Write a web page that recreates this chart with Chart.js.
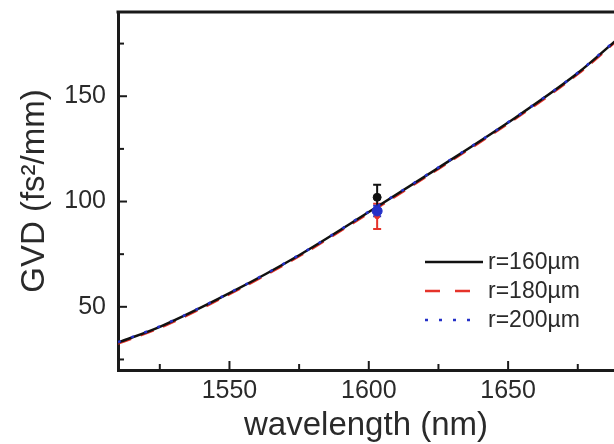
<!DOCTYPE html>
<html>
<head>
<meta charset="utf-8">
<script src="https://cdn.jsdelivr.net/npm/chart.js@4/dist/chart.umd.min.js"></script>
<style>
  html, body { margin: 0; padding: 0; background: #fff; overflow: hidden; }
  #wrap { position: relative; width: 614px; height: 444px; }
</style>
</head>
<body>
<div id="wrap"><canvas id="c"></canvas></div>
<script>
// ---------- Data ----------
const wavelength = [1510, 1525, 1550, 1575, 1600, 1625, 1650, 1675, 1690];
const gvdR160 = [33.0, 40.5, 56.5, 74.5, 95.0, 116.0, 137.5, 161.0, 178.0];
const gvdR180 = [32.6, 40.0, 56.0, 74.0, 94.5, 115.5, 137.0, 160.5, 177.5];
const gvdR200 = [33.2, 40.7, 56.6, 74.6, 95.2, 116.2, 137.6, 161.2, 178.2];

// measured points with error bars (one per radius)
const measX = [1603, 1603, 1603];
const measY = [102, 93, 95.5];
const measErr = [6, 6, 2.5];

const seriesLabels = ["r=160\u00b5m", "r=180\u00b5m", "r=200\u00b5m"];
const seriesColors = ["#111111", "#e5332a", "#2430c8"];

const xMajor = [1550, 1600, 1650];
const xMinor = [1525, 1575, 1625, 1675];
const yMajor = [50, 100, 150];
const yMinor = [25, 75, 125, 175];

const FONT = "'Liberation Sans', Arial, sans-serif";
const INK = "#1a1a1a";

const toXY = (xs, ys) => xs.map((x, i) => ({ x: x, y: ys[i] }));

// ---------- Plugins ----------
// frame top edge + inward tick marks
const framePlugin = {
  id: "frame",
  afterDraw(chart) {
    const { ctx, chartArea: a, scales } = chart;
    ctx.save();
    ctx.strokeStyle = INK;
    ctx.lineWidth = 3;
    ctx.beginPath();
    ctx.moveTo(a.left - 1.5, a.top);
    ctx.lineTo(a.right, a.top);
    ctx.stroke();

    ctx.lineWidth = 2;
    const tick = (vals, len, axis) => {
      vals.forEach(v => {
        ctx.beginPath();
        if (axis === "x") {
          const px = scales.x.getPixelForValue(v);
          ctx.moveTo(px, a.bottom);
          ctx.lineTo(px, a.bottom - len);
        } else {
          const py = scales.y.getPixelForValue(v);
          ctx.moveTo(a.left, py);
          ctx.lineTo(a.left + len, py);
        }
        ctx.stroke();
      });
    };
    tick(xMajor, 9, "x");
    tick(xMinor, 6, "x");
    tick(yMajor, 9, "y");
    tick(yMinor, 6, "y");
    ctx.restore();
  }
};

// vertical error bars for the measured points
const errorBarPlugin = {
  id: "errorBars",
  beforeDatasetsDraw(chart) {
    const { ctx, scales } = chart;
    ctx.save();
    ctx.lineWidth = 2;
    [1, 0, 2].forEach(i => {
      const px = scales.x.getPixelForValue(measX[i]);
      const top = scales.y.getPixelForValue(measY[i] + measErr[i]);
      const bot = scales.y.getPixelForValue(measY[i] - measErr[i]);
      ctx.strokeStyle = seriesColors[i];
      ctx.beginPath();
      ctx.moveTo(px, top); ctx.lineTo(px, bot);
      ctx.moveTo(px - 4, top); ctx.lineTo(px + 4, top);
      ctx.moveTo(px - 4, bot); ctx.lineTo(px + 4, bot);
      ctx.stroke();
    });
    ctx.restore();
  }
};

// legend in the lower right of the plot
const legendPlugin = {
  id: "innerLegend",
  afterDraw(chart) {
    const { ctx, chartArea: a } = chart;
    const x0 = a.left + 307, x1 = a.left + 365, tx = a.left + 370;
    const rows = [a.top + 250, a.top + 279, a.top + 308];
    const dashes = [[], [15, 15], [3, 11]];
    const ends = [x1, x1, x1 - 8];
    ctx.save();
    ctx.font = "23px " + FONT;
    ctx.textBaseline = "middle";
    ctx.textAlign = "left";
    rows.forEach((y, i) => {
      ctx.strokeStyle = seriesColors[i];
      ctx.lineWidth = 2.5;
      ctx.setLineDash(dashes[i]);
      ctx.beginPath();
      ctx.moveTo(x0, y);
      ctx.lineTo(ends[i], y);
      ctx.stroke();
      ctx.setLineDash([]);
      ctx.fillStyle = "#2a2a2a";
      ctx.fillText(seriesLabels[i], tx, y + 1);
    });
    ctx.restore();
  }
};

// ---------- Chart ----------
const curve = (i, ys, dash, order) => ({
  label: seriesLabels[i],
  data: toXY(wavelength, ys),
  borderColor: seriesColors[i],
  borderWidth: 2.5,
  borderDash: dash,
  pointRadius: 0,
  tension: 0.4,
  cubicInterpolationMode: "monotone",
  fill: false,
  order: order
});

const marker = (i, r, order) => ({
  label: seriesLabels[i] + " meas",
  data: [{ x: measX[i], y: measY[i] }],
  showLine: false,
  pointRadius: r,
  pointBackgroundColor: seriesColors[i],
  pointBorderColor: seriesColors[i],
  order: order
});

const noPad = s => { s.paddingTop = 0; s.paddingBottom = 0; s.paddingLeft = 0; s.paddingRight = 0; };

new Chart(document.getElementById("c"), {
  type: "line",
  data: {
    datasets: [
      marker(2, 5, 0),
      marker(0, 4, 1),
      marker(1, 2.5, 2),
      curve(2, gvdR200, [3, 11], 3),
      curve(0, gvdR160, [], 4),
      curve(1, gvdR180, [14, 10], 5)
    ]
  },
  options: {
    responsive: true,
    maintainAspectRatio: false,
    animation: false,
    layout: { autoPadding: false, padding: { top: 12, right: 0, left: 0, bottom: 0 } },
    plugins: { legend: { display: false }, tooltip: { enabled: false } },
    scales: {
      x: {
        type: "linear",
        min: 1510,
        max: 1688,
        afterBuildTicks: s => { s.ticks = xMajor.map(v => ({ value: v })); },
        afterFit: s => { s.height = 74; noPad(s); },
        grid: { drawOnChartArea: false, drawTicks: false },
        border: { display: true, color: INK, width: 3 },
        ticks: {
          font: { family: FONT, size: 25 }, color: "#2a2a2a", padding: 6, maxRotation: 0,
          callback: v => String(v)
        },
        title: {
          display: true,
          text: "wavelength (nm)",
          font: { family: FONT, size: 33, lineHeight: 1 },
          color: "#2a2a2a",
          padding: { top: 0, bottom: 2 }
        }
      },
      y: {
        min: 20,
        max: 190,
        afterBuildTicks: s => { s.ticks = yMajor.map(v => ({ value: v })); },
        afterFit: s => { s.width = 118; noPad(s); },
        grid: { drawOnChartArea: false, drawTicks: false },
        border: { display: true, color: INK, width: 3 },
        ticks: { font: { family: FONT, size: 25 }, color: "#2a2a2a", padding: 12, callback: v => String(v) },
        title: {
          display: true,
          text: "GVD (fs\u00b2/mm)",
          font: { family: FONT, size: 33, lineHeight: 1 },
          color: "#2a2a2a",
          padding: { top: 18, bottom: 0 }
        }
      }
    }
  },
  plugins: [errorBarPlugin, framePlugin, legendPlugin]
});
</script>
</body>
</html>
